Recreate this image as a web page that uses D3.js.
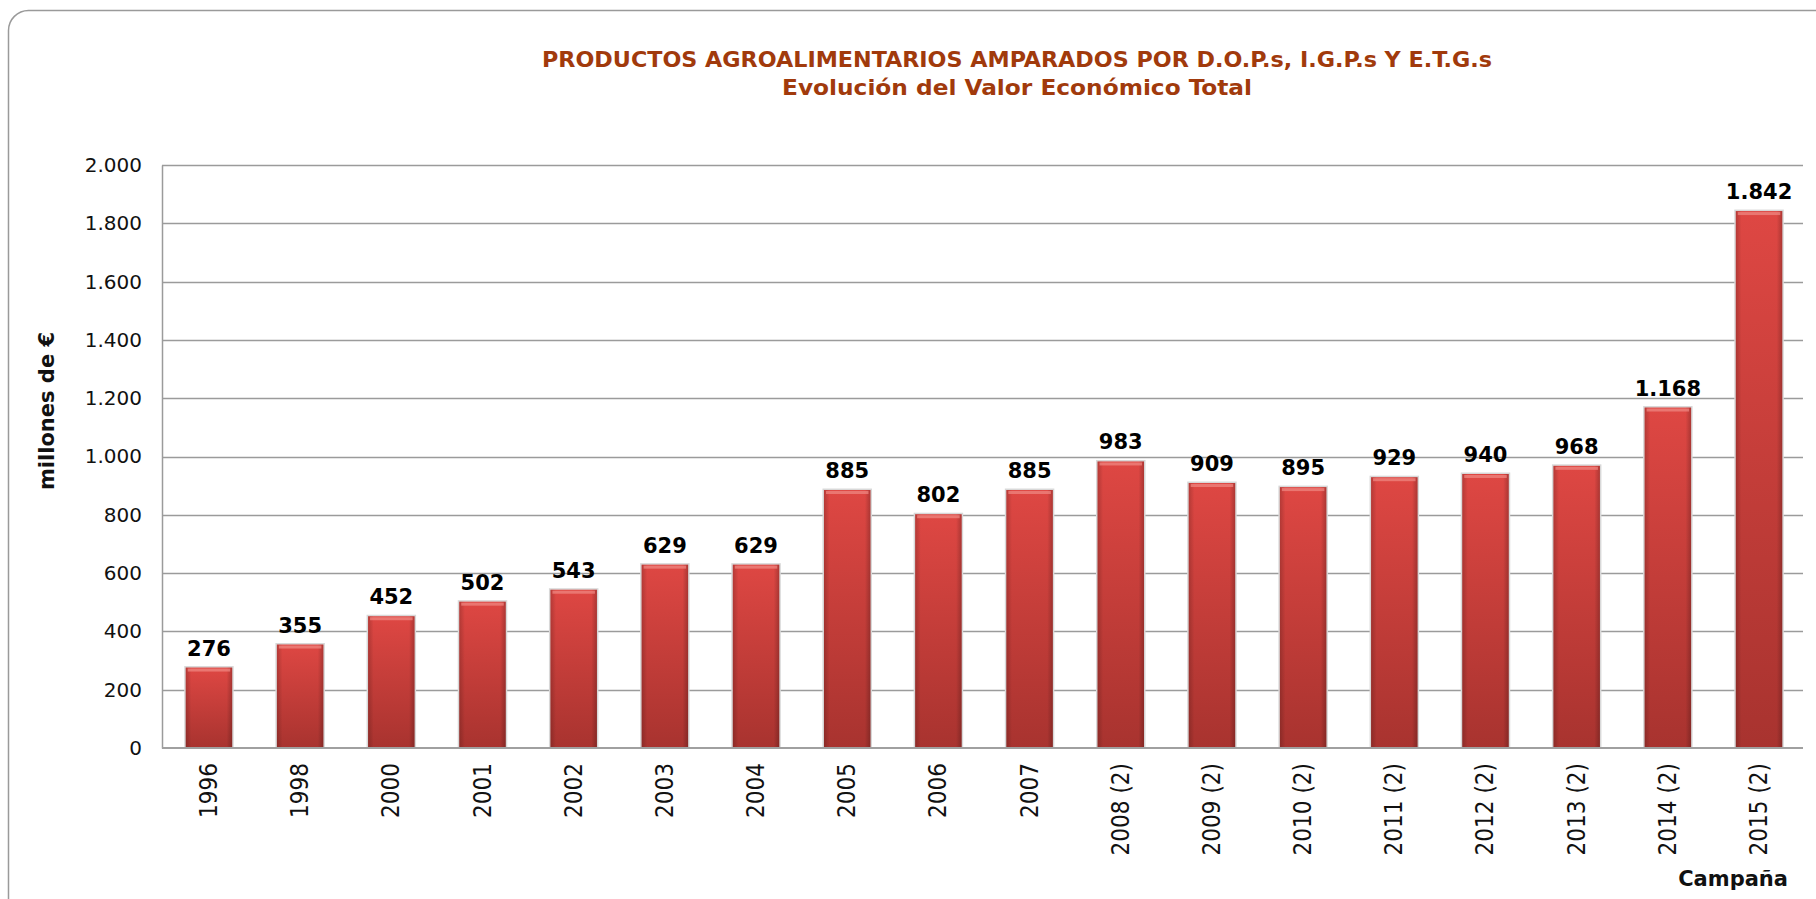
<!DOCTYPE html>
<html>
<head>
<meta charset="utf-8">
<script src="https://cdn.jsdelivr.net/npm/d3@7"></script>
<style>
  body { margin: 0; background: #fff; }
  svg { display: block; }
</style>
</head>
<body>
<div id="chart"></div>
<script>
var campaigns = ["1996", "1998", "2000", "2001", "2002", "2003", "2004", "2005", "2006", "2007",
    "2008 (2)", "2009 (2)", "2010 (2)", "2011 (2)", "2012 (2)", "2013 (2)", "2014 (2)", "2015 (2)"];
var valores = [276, 355, 452, 502, 543, 629, 629, 885, 802, 885, 983, 909, 895, 929, 940, 968, 1168, 1842];
var yTicks = [0, 200, 400, 600, 800, 1000, 1200, 1400, 1600, 1800, 2000];

function init() {
    var w = 1816;
    var h = 899;
    var left = 162, right = 1803, top = 165, bottom = 748;
    var titleColor = "#A13A0C";

    var es = d3.formatLocale({decimal: ",", thousands: ".", grouping: [3], currency: ["", " €"]});
    var fmt = es.format(",d");

    var svg = d3.select("#chart")
        .append("svg")
        .attr("width", w)
        .attr("height", h);

    var defs = svg.append("defs");
    var gv = defs.append("linearGradient").attr("id", "barV")
        .attr("x1", 0).attr("y1", 0).attr("x2", 0).attr("y2", 1);
    gv.append("stop").attr("offset", "0%").attr("stop-color", "#DE4743");
    gv.append("stop").attr("offset", "100%").attr("stop-color", "#A8332F");
    var gh = defs.append("linearGradient").attr("id", "barH")
        .attr("x1", 0).attr("y1", 0).attr("x2", 1).attr("y2", 0);
    gh.append("stop").attr("offset", "0%").attr("stop-color", "#000").attr("stop-opacity", 0.18);
    gh.append("stop").attr("offset", "12%").attr("stop-color", "#000").attr("stop-opacity", 0);
    gh.append("stop").attr("offset", "88%").attr("stop-color", "#000").attr("stop-opacity", 0);
    gh.append("stop").attr("offset", "100%").attr("stop-color", "#000").attr("stop-opacity", 0.22);

    // outer frame
    svg.append("rect")
        .attr("x", 8.5).attr("y", 10.5)
        .attr("width", 1840).attr("height", 920)
        .attr("rx", 20).attr("ry", 20)
        .attr("fill", "#fff")
        .attr("stroke", "#9a9a9a")
        .attr("stroke-width", 1.5);

    // title
    svg.append("text")
        .attr("x", 1017).attr("y", 67)
        .attr("text-anchor", "middle")
        .attr("font-family", "'DejaVu Sans Condensed', 'DejaVu Sans', sans-serif")
        .attr("font-weight", "bold")
        .attr("font-size", 21)
        .attr("textLength", 950).attr("lengthAdjust", "spacingAndGlyphs")
        .attr("fill", titleColor)
        .text("PRODUCTOS AGROALIMENTARIOS AMPARADOS POR D.O.P.s, I.G.P.s Y E.T.G.s");
    svg.append("text")
        .attr("x", 1017).attr("y", 95)
        .attr("text-anchor", "middle")
        .attr("font-family", "'DejaVu Sans Condensed', 'DejaVu Sans', sans-serif")
        .attr("font-weight", "bold")
        .attr("font-size", 21)
        .attr("textLength", 470).attr("lengthAdjust", "spacingAndGlyphs")
        .attr("fill", titleColor)
        .text("Evolución del Valor Económico Total");

    var x = d3.scaleBand()
        .domain(campaigns)
        .range([left, right + 3])
        .paddingInner(0.49)
        .paddingOuter(0.26);

    var y = d3.scaleLinear()
        .domain([0, 2000])
        .range([bottom, top]);

    // gridlines
    svg.append("g")
        .selectAll("line")
        .data(yTicks.slice(1))
        .enter()
        .append("line")
        .attr("x1", left).attr("x2", right)
        .attr("y1", function(d) { return Math.round(y(d)) + 0.5; })
        .attr("y2", function(d) { return Math.round(y(d)) + 0.5; })
        .attr("stroke", "#9b9b9b")
        .attr("stroke-width", 1.3);

    // y axis
    var yAxis = svg.append("g")
        .attr("transform", "translate(" + left + ",0)")
        .call(d3.axisLeft(y).tickValues(yTicks).tickFormat(fmt).tickSize(0).tickPadding(20));
    yAxis.select(".domain").attr("stroke", "#9b9b9b").attr("stroke-width", 1.5);
    yAxis.selectAll("text")
        .attr("font-family", "'DejaVu Sans', sans-serif")
        .attr("font-size", 20)
        .attr("fill", "#111");

    // bars
    var bars = svg.append("g");
    bars.selectAll("rect.shadow")
        .data(valores)
        .enter()
        .append("rect")
        .attr("class", "shadow")
        .attr("x", function(d, i) { return x(campaigns[i]) - 1.5; })
        .attr("y", function(d) { return y(d) - 1.5; })
        .attr("width", x.bandwidth() + 3)
        .attr("height", function(d) { return y(0) - y(d) + 1.5; })
        .attr("fill", "#d8d8d8");
    bars.selectAll("rect.bar")
        .data(valores)
        .enter()
        .append("rect")
        .attr("class", "bar")
        .attr("x", function(d, i) { return x(campaigns[i]); })
        .attr("y", function(d) { return y(d); })
        .attr("width", x.bandwidth())
        .attr("height", function(d) { return y(0) - y(d); })
        .attr("fill", "url(#barV)");
    bars.selectAll("rect.edge")
        .data(valores)
        .enter()
        .append("rect")
        .attr("class", "edge")
        .attr("x", function(d, i) { return x(campaigns[i]); })
        .attr("y", function(d) { return y(d); })
        .attr("width", x.bandwidth())
        .attr("height", function(d) { return y(0) - y(d); })
        .attr("fill", "url(#barH)");
    bars.selectAll("rect.cap")
        .data(valores)
        .enter()
        .append("rect")
        .attr("class", "cap")
        .attr("x", function(d, i) { return x(campaigns[i]) + 2; })
        .attr("y", function(d) { return y(d) + 1; })
        .attr("width", x.bandwidth() - 4)
        .attr("height", 3)
        .attr("fill", "#F08A84")
        .attr("opacity", 0.7);

    // x axis baseline
    svg.append("line")
        .attr("x1", left).attr("x2", right)
        .attr("y1", bottom).attr("y2", bottom)
        .attr("stroke", "#a0a0a0")
        .attr("stroke-width", 2);

    // value labels
    svg.append("g")
        .selectAll("text")
        .data(valores)
        .enter()
        .append("text")
        .text(function(d) { return fmt(d); })
        .attr("x", function(d, i) { return x(campaigns[i]) + x.bandwidth() / 2; })
        .attr("y", function(d) { return y(d) - 12; })
        .attr("text-anchor", "middle")
        .attr("font-family", "'DejaVu Sans', sans-serif")
        .attr("font-weight", "bold")
        .attr("font-size", 21)
        .attr("fill", "#000");

    // category labels
    svg.append("g")
        .selectAll("text")
        .data(campaigns)
        .enter()
        .append("text")
        .text(function(d) { return d; })
        .attr("transform", function(d) {
            return "translate(" + (x(d) + x.bandwidth() / 2 + 8) + "," + (bottom + 15) + ") rotate(-90)";
        })
        .attr("text-anchor", "end")
        .attr("font-family", "'Liberation Sans Narrow', 'DejaVu Sans Condensed', sans-serif")
        .attr("font-size", 24)
        .attr("fill", "#111");

    // axis titles
    svg.append("text")
        .attr("transform", "translate(54,411) rotate(-90)")
        .attr("text-anchor", "middle")
        .attr("font-family", "'DejaVu Sans', sans-serif")
        .attr("font-weight", "bold")
        .attr("font-size", 21)
        .attr("fill", "#111")
        .text("millones de €");
    svg.append("text")
        .attr("x", 1788).attr("y", 886)
        .attr("text-anchor", "end")
        .attr("font-family", "'DejaVu Sans', sans-serif")
        .attr("font-weight", "bold")
        .attr("font-size", 21)
        .attr("fill", "#111")
        .text("Campaña");
}

window.onload = init;
</script>
</body>
</html>
